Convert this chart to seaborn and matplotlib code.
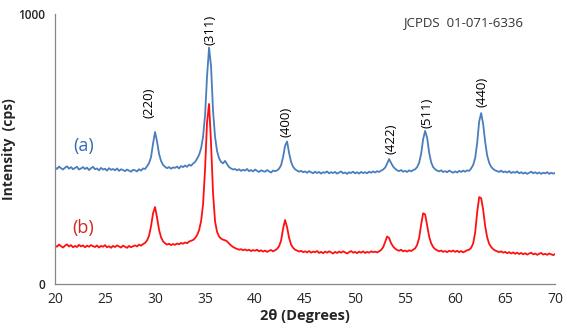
import numpy as np
import pandas as pd
import matplotlib
matplotlib.use("Agg")
import matplotlib.pyplot as plt
import seaborn as sns

# 2-theta scan grid (degrees), 0.2 deg step from 20 to 70
two_theta = np.round(np.arange(20.0, 70.0001, 0.2), 1)

# Sample (a) intensities (cps)
intensity_a = [
    432, 426, 435, 429, 424,  431, 436, 427, 433, 425,
    430, 434, 424, 428, 433,  426, 431, 422, 429, 434,
    425, 428, 421, 430, 424,  427, 420, 429, 423, 426,
    421, 428, 419, 425, 422,  418, 424, 420, 416, 423,
    421, 417, 425, 420, 428,  426, 436, 448, 470, 520,
    563, 528, 482, 456, 441,  434, 429, 433, 427, 432,
    430, 435, 428, 437, 433,  439, 434, 442, 438, 446,
    452, 464, 478, 502, 545,  625, 770, 876, 805, 640,
    545, 492, 466, 452, 447,  456, 444, 433, 428, 424,
    426, 421, 425, 419, 423,  420, 426, 418, 422, 417,
    424, 419, 415, 421, 418,  416, 422, 417, 413, 420,
    418, 421, 427, 440, 470,  512, 528, 485, 452, 434,
    425, 420, 416, 419, 414,  417, 412, 418, 414, 410,
    416, 411, 415, 409, 414,  412, 417, 410, 414, 411,
    415, 409, 413, 417, 410,  413, 408, 414, 411, 416,
    410, 414, 409, 415, 411,  414, 410, 416, 412, 417,
    413, 418, 415, 420, 424,  431, 446, 463, 448, 435,
    427, 421, 418, 422, 416,  419, 415, 421, 417, 422,
    425, 433, 449, 482, 536,  567, 542, 487, 451, 433,
    425, 420, 417, 421, 415,  418, 414, 420, 416, 412,
    417, 413, 419, 415, 420,  416, 421, 419, 428, 441,
    466, 522, 602, 633, 592,  527, 476, 449, 434, 426,
    421, 418, 415, 420, 414,  417, 413, 418, 411, 415,
    412, 417, 410, 414, 409,  413, 408, 412, 416, 410,
    414, 409, 413, 408, 412,  410, 414, 408, 412, 409,
    411,
]

# Sample (b) intensities (cps)
intensity_b = [
    143, 138, 146, 140, 135,  142, 147, 139, 144, 136,
    141, 137, 145, 139, 143,  136, 142, 138, 144, 140,
    137, 143, 135, 141, 138,  144, 136, 140, 134, 141,
    137, 143, 139, 135, 142,  138, 134, 141, 136, 140,
    143, 139, 146, 142, 148,  152, 161, 179, 214, 262,
    285, 246, 201, 173, 158,  151, 146, 149, 144, 148,
    145, 150, 147, 152, 149,  154, 151, 157, 160, 163,
    170, 181, 199, 232, 295,  425, 600, 667, 520, 335,
    232, 193, 176, 168, 164,  162, 158, 150, 143, 137,
    133, 130, 127, 129, 125,  128, 124, 127, 122, 126,
    123, 127, 121, 125, 120,  124, 119, 123, 126, 121,
    125, 130, 140, 161, 205,  237, 210, 171, 146, 134,
    127, 124, 120, 123, 118,  121, 117, 122, 116, 120,
    118, 122, 115, 119, 114,  120, 116, 121, 117, 113,
    119, 115, 120, 116, 121,  117, 113, 118, 122, 116,
    119, 114, 120, 116, 121,  115, 119, 116, 121, 118,
    120, 117, 121, 126, 136,  155, 176, 170, 151, 139,
    131, 126, 123, 127, 121,  124, 120, 125, 122, 127,
    132, 145, 170, 220, 262,  258, 216, 176, 151, 137,
    129, 125, 121, 124, 119,  122, 118, 123, 120, 124,
    119, 123, 118, 122, 117,  121, 125, 127, 134, 150,
    190, 265, 322, 318, 275,  215, 173, 149, 137, 129,
    124, 121, 118, 121, 116,  119, 114, 118, 113, 117,
    112, 116, 111, 115, 110,  114, 109, 113, 116, 110,
    113, 108, 112, 115, 109,  112, 108, 113, 110, 107,
    111,
]

# Miller-index labels and their positions
hkl_labels = ["(220)", "(311)", "(400)", "(422)", "(511)", "(440)"]
hkl_x = [29.4, 35.5, 43.1, 53.6, 57.2, 62.7]
hkl_y = [670, 941, 600, 537, 633, 711]

series_names = ["(a)", "(b)"]
x_ticks = [20, 25, 30, 35, 40, 45, 50, 55, 60, 65, 70]
y_ticks = [0, 1000]

sns.set_style("white")
plt.rcParams["font.family"] = ["Open Sans", "DejaVu Sans"]

df = pd.DataFrame({
    "two_theta": np.concatenate([two_theta, two_theta]),
    "intensity": intensity_a + intensity_b,
    "sample": [series_names[0]] * len(two_theta) + [series_names[1]] * len(two_theta),
})

fig = plt.figure(figsize=(5.70, 3.34), dpi=100)
ax = fig.add_axes([0.0965, 0.1497, 0.8775, 0.8083])

blue = "#4a7ebb"
red = "#ff1010"
sns.lineplot(data=df, x="two_theta", y="intensity", hue="sample",
             palette={series_names[0]: blue, series_names[1]: red},
             linewidth=1.3, legend=False, ax=ax)

ax.set_xlim(20, 70)
ax.set_ylim(0, 1000)
ax.set_xticks(x_ticks)
ax.set_yticks(y_ticks)
ax.tick_params(axis="x", direction="inout", length=5, width=0.8, color="#868686",
               labelsize=10, pad=3, labelcolor="#262626")
ax.tick_params(axis="y", direction="out", length=4, width=0.8, color="#868686",
               labelsize=8.5, pad=3, labelcolor="#262626")
for lbl in ax.get_yticklabels():
    lbl.set_fontweight("semibold")
for side in ["top", "right"]:
    ax.spines[side].set_visible(False)
for side in ["left", "bottom"]:
    ax.spines[side].set_color("#868686")
    ax.spines[side].set_linewidth(0.9)

ax.set_xlabel("2θ (Degrees)", fontsize=10.5, fontweight="bold", labelpad=2)
ax.set_ylabel("Intensity  (cps)", fontsize=10, fontweight="bold", labelpad=2)

for lab, x, y in zip(hkl_labels, hkl_x, hkl_y):
    ax.text(x, y, lab, rotation=90, ha="center", va="center", fontsize=9.5,
            color="#000000", fontweight="medium")

ax.text(22.85, 511, series_names[0], ha="center", va="center", fontsize=13, color="#2e6db4")
ax.text(22.85, 207, series_names[1], ha="center", va="center", fontsize=13, color="#d9261c")
ax.text(60.75, 970, "JCPDS  01-071-6336", ha="center", va="center", fontsize=9.5, color="#333333")

fig.savefig("out.png", dpi=100)
